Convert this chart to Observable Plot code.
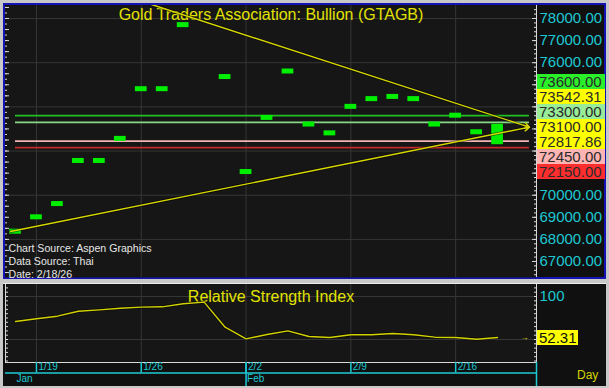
<!DOCTYPE html>
<html><head><meta charset="utf-8">
<script src="https://cdn.jsdelivr.net/npm/d3@7"></script>
<script src="https://cdn.jsdelivr.net/npm/@observablehq/plot@0.6"></script>
<style>
html,body{margin:0;padding:0;}
body{background:#c8c8c8;width:609px;height:388px;overflow:hidden;font-family:"Liberation Sans",Arial,sans-serif;}
#root{position:relative;width:609px;height:388px;}
#top{position:absolute;left:3px;top:3px;width:603px;height:276px;box-sizing:border-box;border:2px solid #1414b4;background:#101010;}
#rsi{position:absolute;left:3px;top:283px;width:603px;height:103px;box-sizing:border-box;border-top:1px solid #ececec;background:#101010;}
.svgbox{position:absolute;}
.lab{position:absolute;left:537px;width:68px;height:15px;font-size:15px;line-height:15px;color:#2a2a2a;padding-left:2px;box-sizing:border-box;white-space:nowrap;}
#day{position:absolute;left:577px;top:368px;font-family:"Liberation Sans Narrow","Liberation Sans",Arial;font-size:12px;color:#d4d400;}
</style></head>
<body><div id="root"><div id="top"></div><div id="rsi"></div><div id="day">Day</div></div>
<script>
// ---------- data ----------
const tradingDays = ["1/16","1/19","1/20","1/21","1/22","1/23","1/26","1/27","1/28","1/29","1/30",
  "2/2","2/3","2/4","2/5","2/6","2/9","2/10","2/11","2/12","2/13","2/16","2/17","2/18"];
const lows  = [68350,69000,69600,71550,71550,72550,74800,74800,77700,79100,75350,
  71050,73500,75600,73200,72800,74000,74350,74450,74350,73200,73600,72850,72400];
const highs = [68350,69000,69600,71550,71550,72550,74800,74800,77700,79100,75350,
  71050,73500,75600,73200,72800,74000,74350,74450,74350,73200,73600,72850,73100];
const rsiValues = [70.9,74.1,77.1,82.9,84.5,86.4,87.6,88.0,91.5,93.4,64.3,
  50.8,55.8,60.1,53.5,52.3,55.5,55.5,57.0,55.5,52.7,52.3,50.3,52.31];
const weekLabels = ["1/19","1/26","2/2","2/9","2/16"];
const monthLabels = ["Jan","Feb"];
const monthStartDays = ["1/16","2/2"];
const levelValues = [73600,73300,72450,72150];
const markerValues = [73542.31,73100,72817.86];
const trendStartDay = [6.49,-0.24];
const trendStartValue = [78634,68358];
const trendEndDay = [24.52,24.52];
const trendEndValue = [73080,73080];
const priceTicks = [78000,77000,76000,75000,74000,73000,72000,71000,70000,69000,68000,67000];
const rsiTicks = [50,100];
const title = "Gold Traders Association: Bullion (GTAGB)";
const rsiTitle = "Relative Strength Index";
const sourceText = "Chart Source: Aspen Graphics\nData Source: Thai\nDate: 2/18/26";

// ---------- styles ----------
const CYAN = "#1ec8d2", YEL = "#e2e200", GRID = "#363636", PLOTBG = "#161616", WHITE = "#d8d8d8";
const levelColors = {73600:"#22c022",73300:"#86d886",72450:"#f2b4b4",72150:"#c42a2a"};
const labelBg = {73600:"#2af02a","73542.31":"#ffff00",73300:"#98ec98",73100:"#ffff00","72817.86":"#ffff00",72450:"#ffb4b4",72150:"#ff2e2e"};

const W = 599, MR = 68, MAIN_H = 272, RSI_H = 78, LABEL_H = 15;
const xDomain = [-0.477, 24.857];
const yDomain = [66275, 78588.5];
const rsiDomain = [23.26, 113.95];
const days = tradingDays.map((d,i)=>({d,i,low:lows[i],high:highs[i],rsi:rsiValues[i]}));
const weekIdx = weekLabels.map(w=>tradingDays.indexOf(w));
const weeks = weekLabels.map((w,k)=>({w,i:weekIdx[k]}));
const months = monthLabels.map((m,k)=>({m,i:tradingDays.indexOf(monthStartDays[k])}));
const trends = trendStartDay.map((s,k)=>({x1:s,y1:trendStartValue[k],x2:trendEndDay[k],y2:trendEndValue[k]}));
const lineStart = 0, lineEnd = trendEndDay[0];
const font = {fontFamily:"'Liberation Sans',Arial,sans-serif",background:"transparent",overflow:"visible"};
const tickAxis = (anchor, ticks, size) =>
  Plot.axisY({anchor, ticks, tickSize: -size, fill: "none", label: null, stroke: WHITE});

// stacked value labels: positions from the same y scale as the chart
const yScale = Plot.scale({y: {domain: yDomain, range: [MAIN_H, 0]}});
const allLabels = levelValues.concat(markerValues).sort((a,b)=>b-a);
const mid = Math.floor(allLabels.length/2);
const anchorY = yScale.apply(allLabels[mid]);
const stackTop = anchorY - mid*LABEL_H - LABEL_H/2;
const stackBottom = anchorY + (allLabels.length-1-mid)*LABEL_H + LABEL_H/2;
const visibleTicks = priceTicks.filter(v => {
  const y = yScale.apply(v);
  return y + 6 < stackTop || y - 6 > stackBottom;
});

// ---------- main price panel ----------
const main = Plot.plot({
  width: W, height: MAIN_H, marginLeft: 0, marginRight: MR, marginTop: 0, marginBottom: 0,
  style: font,
  x: {domain: xDomain, axis: null},
  y: {domain: yDomain, axis: null},
  marks: [
    Plot.frame({fill: PLOTBG}),
    Plot.gridX(weekIdx, {stroke: GRID, strokeOpacity: 1}),
    Plot.gridY(d3.range(68000, 78001, 2000), {stroke: GRID, strokeOpacity: 1}),
    Plot.text([title], {frameAnchor: "top", dy: 14, lineAnchor: "bottom", fill: YEL, fontSize: 16}),
    Plot.text([sourceText], {frameAnchor: "bottom-left", dx: 3, dy: 0, lineAnchor: "bottom", textAnchor: "start",
      fill: "#e6e6e6", fontSize: 10.6, lineHeight: 1.19}),
    Plot.ruleY(levelValues, {x1: lineStart, x2: lineEnd, stroke: d=>levelColors[d], strokeWidth: 1.8}),
    Plot.rect(days, {x1: d=>d.i-0.28, x2: d=>d.i+0.28, y1: "low", y2: "high",
      insetTop: -2.5, insetBottom: -2.5, fill: "#00ee00", clip: true}),
    Plot.arrow(trends, {x1:"x1", y1:"y1", x2:"x2", y2:"y2", stroke: "#000", strokeWidth: 3, headLength: 0, clip: true, strokeOpacity: 0.5}),
    Plot.arrow(trends, {x1:"x1", y1:"y1", x2:"x2", y2:"y2", stroke: "#d8d800", strokeWidth: 1.4, headLength: 6, clip: true}),
    Plot.ruleX([xDomain[1]], {stroke: WHITE}),
    tickAxis("right", d3.range(66400, 78600, 200), 3),
    tickAxis("right", d3.range(67000, 78600, 1000), 5),
    tickAxis("left", d3.range(66500, 78600, 250), 2),
    tickAxis("left", d3.range(66500, 78600, 500), 4),
    Plot.axisY({anchor: "right", ticks: visibleTicks, tickSize: 0, tickPadding: 3, fontSize: 15,
      tickFormat: d=>d.toFixed(2), fill: CYAN, label: null})
  ]
});
main.classList.add("svgbox");
main.style.left = "5px"; main.style.top = "5px";
document.getElementById("root").appendChild(main);

const ys = main.scale("y");
allLabels.forEach((v,k)=>{
  const div = document.createElement("div");
  div.className = "lab";
  div.style.top = (ys.apply(allLabels[mid]) + 5 + (k-mid)*LABEL_H - LABEL_H/2) + "px";
  div.style.background = labelBg[v];
  div.textContent = v.toFixed(2);
  document.getElementById("root").appendChild(div);
});

// ---------- RSI panel ----------
const rsiLast = rsiValues[rsiValues.length-1];
const rsiScale = Plot.scale({y: {domain: rsiDomain, range: [RSI_H, 0]}});
const rsiVisibleTicks = rsiTicks.filter(v => Math.abs(rsiScale.apply(v) - rsiScale.apply(rsiLast)) > 14);
const rsiPlot = Plot.plot({
  width: W, height: RSI_H, marginLeft: 0, marginRight: MR, marginTop: 0, marginBottom: 0,
  style: font,
  x: {domain: xDomain, axis: null},
  y: {domain: rsiDomain, axis: null},
  marks: [
    Plot.frame({fill: PLOTBG}),
    Plot.gridX(weekIdx, {stroke: GRID, strokeOpacity: 1}),
    Plot.gridY(rsiTicks, {stroke: GRID, strokeOpacity: 1}),
    Plot.text([rsiTitle], {frameAnchor: "top", dy: 17, lineAnchor: "bottom", fill: YEL, fontSize: 16}),
    Plot.line(days, {x: "i", y: "rsi", stroke: "#000", strokeWidth: 3, strokeOpacity: 0.5}),
    Plot.line(days, {x: "i", y: "rsi", stroke: "#d2d200", strokeWidth: 1.4}),
    Plot.text(["→"], {frameAnchor: "right", y: rsiLast, dx: -8, fill: YEL, fontSize: 8}),
    Plot.ruleX([xDomain[1]], {stroke: WHITE}),
    Plot.ruleX([xDomain[0]], {stroke: WHITE}),
    Plot.ruleY([rsiDomain[0]], {stroke: WHITE}),
    tickAxis("right", d3.range(25, 114, 5), 3),
    tickAxis("left", d3.range(25, 114, 5), 3),
    Plot.axisY({anchor: "right", ticks: rsiVisibleTicks, tickSize: 0, tickPadding: 3, fontSize: 15, fill: CYAN, label: null})
  ]
});
rsiPlot.classList.add("svgbox");
rsiPlot.style.left = "5px"; rsiPlot.style.top = "284px";
document.getElementById("root").appendChild(rsiPlot);

const ry = rsiPlot.scale("y");
const rl = document.createElement("div");
rl.className = "lab";
rl.style.width = "41px";
rl.style.top = (ry.apply(rsiLast) + 284 - LABEL_H/2) + "px";
rl.style.background = "#ffff00";
rl.style.color = "#111";
rl.textContent = rsiLast.toFixed(2);
document.getElementById("root").appendChild(rl);

// ---------- date strip ----------
const strip = Plot.plot({
  width: W, height: 24, marginLeft: 0, marginRight: MR, marginTop: 0, marginBottom: 0,
  style: {fontFamily: "'Liberation Sans Narrow','Liberation Sans',Arial", background: "transparent", overflow: "visible"},
  x: {domain: xDomain, axis: null},
  y: {domain: [0, 24], range: [0, 24], axis: null},
  marks: [
    Plot.ruleX(weeks, {x: "i", y1: 0, y2: 10.5, stroke: CYAN, strokeWidth: 1.5}),
    Plot.ruleY([10.5], {stroke: CYAN, strokeWidth: 1.5}),
    Plot.ruleX(months.slice(1), {x: "i", y1: 0, y2: 24, stroke: CYAN, strokeWidth: 1.5}),
    Plot.ruleX([xDomain[1]], {y1: 0, y2: 24, stroke: CYAN, strokeWidth: 1.5}),
    Plot.text(weeks, {x: "i", y: 0.5, text: "w", dx: 2, textAnchor: "start", lineAnchor: "top", fill: CYAN, fontSize: 10}),
    Plot.text(months, {x: "i", y: 12.5, text: "m", dx: 1, textAnchor: "start", lineAnchor: "top", fill: CYAN, fontSize: 10})
  ]
});
strip.classList.add("svgbox");
strip.style.left = "5px"; strip.style.top = "362px";
document.getElementById("root").appendChild(strip);
</script>
</body></html>
